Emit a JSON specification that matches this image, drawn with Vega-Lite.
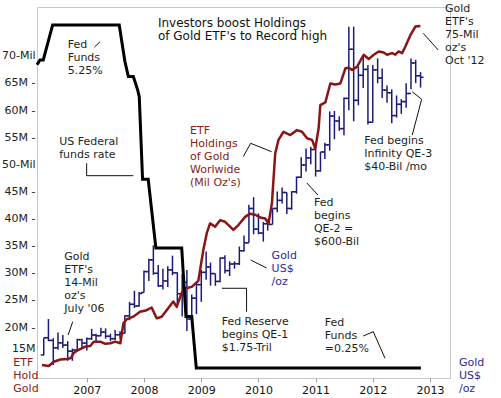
{
  "$schema": "https://vega.github.io/schema/vega-lite/v6.json",
  "width": 413,
  "height": 371,
  "autosize": {"type": "none"},
  "padding": {"left": 37, "top": 7, "right": 51, "bottom": 20},
  "background": "white",
  "config": {
    "view": {"stroke": "#c8c8c8", "strokeWidth": 1},
    "font": "DejaVu Sans",
    "axis": {"labelFont": "DejaVu Sans", "labelFontSize": 11, "grid": false, "domain": false, "title": null}
  },
  "datasets": {
    "gold": [
      {"date":"2006-04-01","open":584,"high":654,"low":582,"close":654},
      {"date":"2006-05-01","open":654,"high":730,"low":640,"close":643},
      {"date":"2006-06-01","open":643,"high":652,"low":543,"close":613},
      {"date":"2006-07-01","open":613,"high":675,"low":605,"close":633},
      {"date":"2006-08-01","open":633,"high":665,"low":612,"close":624},
      {"date":"2006-09-01","open":624,"high":640,"low":560,"close":599},
      {"date":"2006-10-01","open":599,"high":610,"low":560,"close":604},
      {"date":"2006-11-01","open":604,"high":650,"low":600,"close":646},
      {"date":"2006-12-01","open":646,"high":650,"low":613,"close":632},
      {"date":"2007-01-01","open":632,"high":655,"low":602,"close":650},
      {"date":"2007-02-01","open":650,"high":690,"low":645,"close":665},
      {"date":"2007-03-01","open":665,"high":670,"low":636,"close":662},
      {"date":"2007-04-01","open":662,"high":695,"low":660,"close":677},
      {"date":"2007-05-01","open":677,"high":692,"low":650,"close":660},
      {"date":"2007-06-01","open":660,"high":670,"low":640,"close":650},
      {"date":"2007-07-01","open":650,"high":685,"low":645,"close":666},
      {"date":"2007-08-01","open":666,"high":680,"low":650,"close":672},
      {"date":"2007-09-01","open":672,"high":745,"low":670,"close":743},
      {"date":"2007-10-01","open":743,"high":800,"low":725,"close":790},
      {"date":"2007-11-01","open":790,"high":845,"low":775,"close":783},
      {"date":"2007-12-01","open":783,"high":840,"low":780,"close":834},
      {"date":"2008-01-01","open":838,"high":928,"low":838,"close":923},
      {"date":"2008-02-01","open":923,"high":975,"low":885,"close":971},
      {"date":"2008-03-01","open":971,"high":1030,"low":910,"close":916},
      {"date":"2008-04-01","open":916,"high":950,"low":860,"close":865},
      {"date":"2008-05-01","open":865,"high":935,"low":850,"close":885},
      {"date":"2008-06-01","open":885,"high":945,"low":860,"close":930},
      {"date":"2008-07-01","open":930,"high":988,"low":908,"close":918},
      {"date":"2008-08-01","open":918,"high":920,"low":786,"close":833},
      {"date":"2008-09-01","open":833,"high":912,"low":740,"close":880},
      {"date":"2008-10-01","open":880,"high":930,"low":681,"close":730},
      {"date":"2008-11-01","open":730,"high":830,"low":700,"close":815},
      {"date":"2008-12-01","open":815,"high":880,"low":750,"close":870},
      {"date":"2009-01-01","open":870,"high":930,"low":800,"close":920},
      {"date":"2009-02-01","open":920,"high":1005,"low":890,"close":942},
      {"date":"2009-03-01","open":942,"high":960,"low":866,"close":915},
      {"date":"2009-04-01","open":915,"high":915,"low":865,"close":883},
      {"date":"2009-05-01","open":883,"high":980,"low":880,"close":978},
      {"date":"2009-06-01","open":978,"high":990,"low":915,"close":927},
      {"date":"2009-07-01","open":927,"high":965,"low":905,"close":954},
      {"date":"2009-08-01","open":954,"high":965,"low":935,"close":955},
      {"date":"2009-09-01","open":955,"high":1025,"low":950,"close":1008},
      {"date":"2009-10-01","open":1008,"high":1070,"low":1005,"close":1040},
      {"date":"2009-11-01","open":1040,"high":1195,"low":1040,"close":1180},
      {"date":"2009-12-01","open":1180,"high":1226,"low":1075,"close":1096},
      {"date":"2010-01-01","open":1096,"high":1160,"low":1075,"close":1080},
      {"date":"2010-02-01","open":1080,"high":1125,"low":1045,"close":1118},
      {"date":"2010-03-01","open":1118,"high":1135,"low":1090,"close":1115},
      {"date":"2010-04-01","open":1115,"high":1180,"low":1115,"close":1180},
      {"date":"2010-05-01","open":1180,"high":1249,"low":1165,"close":1213},
      {"date":"2010-06-01","open":1213,"high":1265,"low":1200,"close":1245},
      {"date":"2010-07-01","open":1245,"high":1245,"low":1157,"close":1180},
      {"date":"2010-08-01","open":1180,"high":1250,"low":1175,"close":1248},
      {"date":"2010-09-01","open":1248,"high":1310,"low":1240,"close":1307},
      {"date":"2010-10-01","open":1307,"high":1388,"low":1305,"close":1357},
      {"date":"2010-11-01","open":1357,"high":1424,"low":1330,"close":1386},
      {"date":"2010-12-01","open":1386,"high":1431,"low":1360,"close":1420},
      {"date":"2011-01-01","open":1420,"high":1424,"low":1310,"close":1333},
      {"date":"2011-02-01","open":1333,"high":1410,"low":1330,"close":1410},
      {"date":"2011-03-01","open":1410,"high":1447,"low":1381,"close":1439},
      {"date":"2011-04-01","open":1439,"high":1575,"low":1415,"close":1556},
      {"date":"2011-05-01","open":1556,"high":1577,"low":1462,"close":1536},
      {"date":"2011-06-01","open":1536,"high":1555,"low":1496,"close":1505},
      {"date":"2011-07-01","open":1505,"high":1632,"low":1478,"close":1628},
      {"date":"2011-08-01","open":1628,"high":1920,"low":1580,"close":1828},
      {"date":"2011-09-01","open":1828,"high":1920,"low":1535,"close":1620},
      {"date":"2011-10-01","open":1620,"high":1758,"low":1600,"close":1722},
      {"date":"2011-11-01","open":1722,"high":1803,"low":1670,"close":1746},
      {"date":"2011-12-01","open":1746,"high":1764,"low":1522,"close":1531},
      {"date":"2012-01-01","open":1531,"high":1764,"low":1530,"close":1744},
      {"date":"2012-02-01","open":1744,"high":1791,"low":1690,"close":1711},
      {"date":"2012-03-01","open":1711,"high":1750,"low":1630,"close":1662},
      {"date":"2012-04-01","open":1662,"high":1680,"low":1610,"close":1651},
      {"date":"2012-05-01","open":1651,"high":1665,"low":1527,"close":1558},
      {"date":"2012-06-01","open":1558,"high":1640,"low":1550,"close":1604},
      {"date":"2012-07-01","open":1604,"high":1625,"low":1565,"close":1615},
      {"date":"2012-08-01","open":1615,"high":1690,"low":1590,"close":1648},
      {"date":"2012-09-01","open":1648,"high":1790,"low":1665,"close":1772},
      {"date":"2012-10-01","open":1772,"high":1785,"low":1690,"close":1720},
      {"date":"2012-11-01","open":1720,"high":1735,"low":1672,"close":1714}
    ],
    "etf": [
      {"date":"2006-03-21","holdings":13.0},
      {"date":"2006-05-03","holdings":12.8},
      {"date":"2006-06-04","holdings":13.6},
      {"date":"2006-07-16","holdings":14.0},
      {"date":"2006-08-28","holdings":14.1},
      {"date":"2006-09-22","holdings":14.3},
      {"date":"2006-10-09","holdings":15.2},
      {"date":"2006-11-10","holdings":15.8},
      {"date":"2006-12-22","holdings":16.4},
      {"date":"2007-01-23","holdings":16.5},
      {"date":"2007-02-14","holdings":17.3},
      {"date":"2007-03-28","holdings":17.3},
      {"date":"2007-04-29","holdings":16.9},
      {"date":"2007-05-31","holdings":17.0},
      {"date":"2007-07-02","holdings":17.3},
      {"date":"2007-08-03","holdings":17.0},
      {"date":"2007-08-23","holdings":20.7},
      {"date":"2007-09-12","holdings":21.4},
      {"date":"2007-10-24","holdings":21.9},
      {"date":"2007-12-07","holdings":22.8},
      {"date":"2008-01-18","holdings":23.1},
      {"date":"2008-02-19","holdings":23.6},
      {"date":"2008-03-22","holdings":21.6},
      {"date":"2008-04-23","holdings":21.9},
      {"date":"2008-05-25","holdings":23.1},
      {"date":"2008-07-06","holdings":24.7},
      {"date":"2008-07-28","holdings":23.7},
      {"date":"2008-08-29","holdings":26.3},
      {"date":"2008-09-19","holdings":27.1},
      {"date":"2008-11-01","holdings":27.4},
      {"date":"2008-12-13","holdings":28.5},
      {"date":"2009-01-14","holdings":34.2},
      {"date":"2009-02-05","holdings":37.3},
      {"date":"2009-02-26","holdings":39.1},
      {"date":"2009-03-30","holdings":38.5},
      {"date":"2009-05-01","holdings":39.7},
      {"date":"2009-06-02","holdings":39.4},
      {"date":"2009-07-04","holdings":38.5},
      {"date":"2009-07-25","holdings":37.9},
      {"date":"2009-08-26","holdings":38.8},
      {"date":"2009-10-08","holdings":40.3},
      {"date":"2009-11-09","holdings":40.9},
      {"date":"2009-12-11","holdings":40.7},
      {"date":"2010-01-12","holdings":40.2},
      {"date":"2010-02-13","holdings":40.0},
      {"date":"2010-03-06","holdings":39.1},
      {"date":"2010-03-28","holdings":42.8},
      {"date":"2010-04-18","holdings":52.0},
      {"date":"2010-05-09","holdings":54.5},
      {"date":"2010-06-10","holdings":56.0},
      {"date":"2010-07-23","holdings":55.4},
      {"date":"2010-09-04","holdings":56.3},
      {"date":"2010-10-06","holdings":56.0},
      {"date":"2010-11-07","holdings":54.8},
      {"date":"2010-12-09","holdings":54.5},
      {"date":"2010-12-30","holdings":52.9},
      {"date":"2011-01-20","holdings":56.6},
      {"date":"2011-01-31","holdings":60.9},
      {"date":"2011-03-04","holdings":61.4},
      {"date":"2011-04-05","holdings":64.9},
      {"date":"2011-05-07","holdings":64.7},
      {"date":"2011-06-08","holdings":64.9},
      {"date":"2011-07-10","holdings":67.7},
      {"date":"2011-07-31","holdings":67.8},
      {"date":"2011-08-22","holdings":67.4},
      {"date":"2011-09-23","holdings":68.0},
      {"date":"2011-11-04","holdings":70.2},
      {"date":"2011-12-06","holdings":69.4},
      {"date":"2012-01-07","holdings":70.2},
      {"date":"2012-02-08","holdings":70.8},
      {"date":"2012-03-11","holdings":70.6},
      {"date":"2012-04-01","holdings":70.2},
      {"date":"2012-05-03","holdings":70.5},
      {"date":"2012-05-24","holdings":70.2},
      {"date":"2012-06-14","holdings":70.8},
      {"date":"2012-07-06","holdings":70.5},
      {"date":"2012-07-27","holdings":71.7},
      {"date":"2012-08-28","holdings":73.8},
      {"date":"2012-09-29","holdings":75.4},
      {"date":"2012-10-31","holdings":75.5}
    ],
    "fed": [
      {"date":"2006-02-17","rate":4.67},
      {"date":"2006-03-08","rate":4.74},
      {"date":"2006-03-29","rate":4.74},
      {"date":"2006-05-28","rate":5.25},
      {"date":"2007-07-27","rate":5.25},
      {"date":"2007-09-01","rate":4.72},
      {"date":"2007-09-23","rate":4.5},
      {"date":"2007-10-25","rate":4.5},
      {"date":"2007-11-22","rate":4.3},
      {"date":"2007-12-02","rate":4.2},
      {"date":"2007-12-23","rate":3.0},
      {"date":"2008-01-28","rate":3.0},
      {"date":"2008-03-17","rate":2.0},
      {"date":"2008-08-29","rate":2.0},
      {"date":"2008-09-25","rate":1.0},
      {"date":"2008-11-01","rate":1.0},
      {"date":"2008-11-30","rate":0.25},
      {"date":"2012-11-03","rate":0.25}
    ],
    "notes": [
      {"date":"2006-09-01","y":71.99,"text":"Fed\nFunds\n5.25%","kind":"note"},
      {"date":"2006-07-09","y":54.17,"text":"US Federal\nfunds rate","kind":"note"},
      {"date":"2006-08-10","y":32.96,"text":"Gold\nETF's\n14-Mil\noz's\nJuly '06","kind":"note"},
      {"date":"2005-09-19","y":13.42,"text":"ETF\nHold\nGold","kind":"etf"},
      {"date":"2013-07-04","y":13.31,"text":"Gold\nUS$\n/oz","kind":"gold"},
      {"date":"2013-04-06","y":78.63,"text":"Gold\nETF's\n75-Mil\noz's\nOct '12","kind":"note"},
      {"date":"2011-11-07","y":54.29,"text":"Fed begins\nInfinity QE-3\n$40-Bil /mo","kind":"note"},
      {"date":"2008-10-21","y":56.19,"text":"ETF\nHoldings\nof Gold\nWorlwide\n(Mil Oz's)","kind":"etf"},
      {"date":"2010-12-21","y":42.86,"text":"Fed\nbegins\nQE-2 =\n$600-Bil","kind":"note"},
      {"date":"2009-05-11","y":20.87,"text":"Fed Reserve\nbegins QE-1\n$1.75-Tril","kind":"note"},
      {"date":"2011-03-01","y":20.69,"text":"Fed\nFunds\n=0.25%","kind":"note"},
      {"date":"2010-03-26","y":33.09,"text":"Gold\nUS$\n/oz","kind":"gold"}
    ],
    "title": [
      {"date":"2008-03-30","y":76.05,"text":"Investors boost Holdings\nof Gold ETF's to Record high"}
    ],
    "leaders": [
      {"id":"L1","seq":1,"date":"2007-02-18","y":71.57},
      {"id":"L1","seq":2,"date":"2007-03-26","y":72.6},
      {"id":"L2","seq":1,"date":"2006-12-31","y":50.18},
      {"id":"L2","seq":2,"date":"2006-12-31","y":47.9},
      {"id":"L2","seq":3,"date":"2007-10-25","y":47.9},
      {"id":"L3","seq":1,"date":"2006-10-03","y":20.98},
      {"id":"L3","seq":2,"date":"2006-09-04","y":18.53},
      {"id":"L4","seq":1,"date":"2012-11-18","y":74.15},
      {"id":"L4","seq":2,"date":"2013-02-22","y":71.07},
      {"id":"L5","seq":1,"date":"2012-09-09","y":63.38},
      {"id":"L5","seq":2,"date":"2012-11-08","y":61.98},
      {"id":"L5","seq":3,"date":"2012-09-09","y":55.4},
      {"id":"L6","seq":1,"date":"2009-09-26","y":51.4},
      {"id":"L6","seq":2,"date":"2009-11-12","y":53.87},
      {"id":"L6","seq":3,"date":"2010-03-26","y":52.32},
      {"id":"L7","seq":1,"date":"2010-11-06","y":46.55},
      {"id":"L7","seq":2,"date":"2011-01-16","y":44.34},
      {"id":"L8","seq":1,"date":"2009-11-12","y":32.36},
      {"id":"L8","seq":2,"date":"2010-02-22","y":30.88},
      {"id":"L9","seq":1,"date":"2009-05-13","y":27.14},
      {"id":"L9","seq":2,"date":"2009-10-17","y":27.14},
      {"id":"L9","seq":3,"date":"2009-10-17","y":22.82},
      {"id":"L10","seq":1,"date":"2011-11-01","y":18.34},
      {"id":"L10","seq":2,"date":"2012-01-04","y":19.14},
      {"id":"L10","seq":3,"date":"2012-03-19","y":14.23}
    ]
  },
  "layer": [
    {
      "data": {"name": "gold"},
      "layer": [
        {
          "mark": {"type": "rule", "color": "#1c1c78", "strokeWidth": 1.5},
          "encoding": {
            "x": {"field": "date", "type": "temporal",
              "scale": {"type": "utc", "domain": [{"year": 2006, "month": 2, "date": 17, "utc": true}, {"year": 2013, "month": 5, "date": 8, "utc": true}]},
              "axis": {
                "values": [{"year":2007,"utc":true},{"year":2008,"utc":true},{"year":2009,"utc":true},{"year":2010,"utc":true},{"year":2011,"utc":true},{"year":2012,"utc":true},{"year":2013,"utc":true}],
                "format": "%Y", "ticks": true, "tickSize": 4, "tickColor": "#a0a0a0", "labelColor": "#111111", "labelPadding": 2, "labelFontSize": 11
              }
            },
            "y": {"field": "low", "type": "quantitative",
              "scale": {"domain": [490, 2000], "zero": false, "nice": false},
              "axis": {
                "orient": "right",
                "values": [600,700,800,900,1000,1100,1200,1300,1400,1500,1600,1700],
                "labelExpr": "datum.value == 1000 ? '- $1,000' : datum.value == 600 ? '_600' : '-\u2009' + format(datum.value, ',')",
                "labelOffset": {"condition": {"test": "datum.value == 600", "value": -3}, "value": 0},
                "labelPadding": 1, "labelColor": "#111111", "ticks": false, "labelFontSize": 11
              }
            },
            "y2": {"field": "high"}
          }
        },
        {
          "mark": {"type": "point", "shape": "M-1,0L0,0", "size": 36, "filled": false, "strokeWidth": 1.5, "color": "#1c1c78", "opacity": 1},
          "encoding": {
            "x": {"field": "date", "type": "temporal"},
            "y": {"field": "open", "type": "quantitative", "scale": {"domain": [490, 2000], "zero": false, "nice": false}, "axis": null}
          }
        },
        {
          "mark": {"type": "point", "shape": "M0,0L1,0", "size": 36, "filled": false, "strokeWidth": 1.5, "color": "#1c1c78", "opacity": 1},
          "encoding": {
            "x": {"field": "date", "type": "temporal"},
            "y": {"field": "close", "type": "quantitative", "scale": {"domain": [490, 2000], "zero": false, "nice": false}, "axis": null}
          }
        }
      ]
    },
    {
      "data": {"name": "etf"},
      "mark": {"type": "line", "color": "#8b1414", "strokeWidth": 2.5, "strokeJoin": "round"},
      "encoding": {
        "x": {"field": "date", "type": "temporal"},
        "y": {"field": "holdings", "type": "quantitative",
          "scale": {"domain": [10.6, 79], "zero": false, "nice": false},
          "axis": {
            "orient": "left",
            "values": [15,20,25,30,35,40,45,50,55,60,65,70],
            "labelExpr": "datum.value == 70 ? '70-Mil' : datum.value == 50 ? '50-Mil' : datum.value == 15 ? '15M' : datum.value + 'M -'",
            "labelOffset": {"condition": {"test": "datum.value == 15", "value": -6}, "value": 0},
            "labelPadding": 2, "labelColor": "#222222", "ticks": false, "labelFontSize": 11
          }
        }
      }
    },
    {
      "data": {"name": "fed"},
      "mark": {"type": "line", "color": "#000000", "strokeWidth": 3, "strokeJoin": "miter"},
      "encoding": {
        "x": {"field": "date", "type": "temporal"},
        "y": {"field": "rate", "type": "quantitative", "scale": {"domain": [0.104, 5.512], "zero": false, "nice": false}, "axis": null}
      }
    },
    {
      "data": {"name": "leaders"},
      "mark": {"type": "line", "color": "#111111", "strokeWidth": 1},
      "encoding": {
        "x": {"field": "date", "type": "temporal"},
        "y": {"field": "y", "type": "quantitative", "scale": {"domain": [10.6, 79], "zero": false, "nice": false}, "axis": null},
        "detail": {"field": "id"},
        "order": {"field": "seq"}
      }
    },
    {
      "data": {"name": "notes"},
      "mark": {"type": "text", "align": "left", "baseline": "middle", "lineBreak": "\n", "lineHeight": 13, "fontSize": 11, "font": "DejaVu Sans"},
      "encoding": {
        "x": {"field": "date", "type": "temporal"},
        "y": {"field": "y", "type": "quantitative", "scale": {"domain": [10.6, 79], "zero": false, "nice": false}, "axis": null},
        "text": {"field": "text"},
        "color": {"field": "kind", "type": "nominal", "scale": {"domain": ["note", "etf", "gold"], "range": ["#1e1e1e", "#8b1a1a", "#2a2a9c"]}, "legend": null}
      }
    },
    {
      "data": {"name": "title"},
      "mark": {"type": "text", "align": "left", "baseline": "middle", "lineBreak": "\n", "lineHeight": 13, "fontSize": 12, "font": "DejaVu Sans", "color": "#111111"},
      "encoding": {
        "x": {"field": "date", "type": "temporal"},
        "y": {"field": "y", "type": "quantitative", "scale": {"domain": [10.6, 79], "zero": false, "nice": false}, "axis": null},
        "text": {"field": "text"}
      }
    }
  ],
  "resolve": {"scale": {"y": "independent"}}
}
